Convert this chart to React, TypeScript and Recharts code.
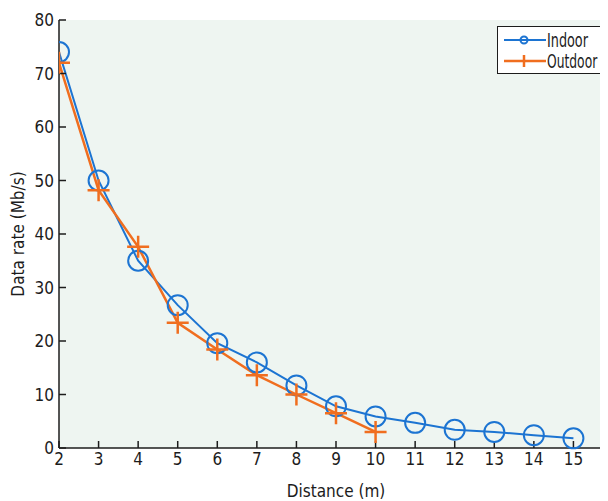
import { LineChart, Line, XAxis, YAxis, CartesianGrid, Legend } from "recharts";

const distances = [2, 3, 4, 5, 6, 7, 8, 9, 10, 11, 12, 13, 14, 15];
const indoorRates = [74, 50, 35, 26.7, 19.6, 16, 11.7, 7.8, 5.9, 4.7, 3.4, 3.0, 2.4, 1.8];
const outdoorDistances = [2, 3, 4, 5, 6, 7, 8, 9, 10];
const outdoorRates = [72, 48.2, 37.6, 23.4, 18.4, 13.6, 10, 6.5, 3];
const xTicks = [2, 3, 4, 5, 6, 7, 8, 9, 10, 11, 12, 13, 14, 15, 16];
const yTicks = [0, 10, 20, 30, 40, 50, 60, 70, 80];

const BLUE = "#1c74d2";
const ORANGE = "#f06e1f";
const INK = "#1c1c1c";
const FONT = "'DejaVu Sans Condensed', 'DejaVu Sans', sans-serif";

const indoorData = distances.map((d, i) => ({ distance: d, rate: indoorRates[i] }));
const outdoorData = outdoorDistances.map((d, i) => ({ distance: d, rate: outdoorRates[i] }));

const textStyle = { fill: INK, fontSize: 17, fontFamily: FONT, fontStretch: "condensed" };

const PlusDot = (props: any) => {
  const { cx, cy, index } = props;
  if (cx == null || cy == null) return <g key={`p-${index}`} />;
  return (
    <path
      key={`p-${index}`}
      d={`M${cx - 11},${cy}H${cx + 11}M${cx},${cy - 11}V${cy + 11}`}
      stroke={ORANGE}
      strokeWidth={2.5}
      fill="none"
    />
  );
};

// narrow legend text: squeeze horizontally to mimic the condensed original face
const LegendBox = () => (
  <div
    style={{
      width: 106,
      height: 46,
      border: `1.5px solid ${INK}`,
      borderRight: "none",
      background: "#fff",
    }}
  >
    <svg width={106} height={46} style={{ display: "block" }}>
      <line x1={6} y1={13} x2={48} y2={13} stroke={BLUE} strokeWidth={2} />
      <circle cx={26} cy={13} r={3.5} stroke={BLUE} strokeWidth={2} fill="none" />
      <g transform="translate(49,20) scale(0.75,1)">
        <text x={0} y={0} style={{ ...textStyle, fontSize: 19 }}>
          Indoor
        </text>
      </g>
      <line x1={6} y1={34} x2={48} y2={34} stroke={ORANGE} strokeWidth={2.5} />
      <path d="M26,28V40" stroke={ORANGE} strokeWidth={2.5} />
      <g transform="translate(49,41) scale(0.72,1)">
        <text x={0} y={0} style={{ ...textStyle, fontSize: 19 }}>
          Outdoor
        </text>
      </g>
    </svg>
  </div>
);

export default function App() {
  return (
    <div style={{ width: 600, height: 493, overflow: "hidden", background: "#fff" }}>
      <LineChart
        width={620}
        height={493}
        margin={{ top: 12, right: 15, left: 0, bottom: 0 }}
      >
        <CartesianGrid fill="#eef5f1" horizontal={false} vertical={false} />
        <XAxis
          xAxisId="bottom"
          dataKey="distance"
          type="number"
          domain={[2, 16]}
          ticks={xTicks}
          tickFormatter={(v: number) => (v === 16 ? "" : String(v))}
          allowDataOverflow
          height={53}
          tickSize={-7}
          tickMargin={12}
          tick={textStyle}
          stroke={INK}
          strokeWidth={1.5}
          label={{
            value: "Distance (m)",
            position: "insideBottom",
            offset: 4,
            style: textStyle,
          }}
        />
        <XAxis
          xAxisId="top"
          orientation="top"
          dataKey="distance"
          type="number"
          domain={[2, 16]}
          ticks={xTicks}
          height={0}
          tickSize={-8}
          tick={false}
          stroke={INK}
          strokeWidth={1.5}
        />
        <YAxis
          yAxisId="left"
          type="number"
          domain={[0, 80]}
          ticks={yTicks}
          width={51}
          tickSize={-7}
          tickMargin={12}
          tick={textStyle}
          stroke={INK}
          strokeWidth={1.5}
          label={{
            value: "Data rate (Mb/s)",
            angle: -90,
            position: "insideLeft",
            offset: 10,
            style: { ...textStyle, textAnchor: "middle" },
          }}
        />
        <YAxis
          yAxisId="right"
          orientation="right"
          type="number"
          domain={[0, 80]}
          ticks={yTicks}
          width={0}
          tickSize={-8}
          tick={false}
          stroke={INK}
          strokeWidth={1.5}
        />
        <Line
          xAxisId="bottom"
          yAxisId="left"
          data={indoorData}
          dataKey="rate"
          name="Indoor"
          type="linear"
          stroke={BLUE}
          strokeWidth={2}
          dot={{ r: 10, stroke: BLUE, strokeWidth: 2, fill: "none" }}
          isAnimationActive={false}
        />
        <Line
          xAxisId="bottom"
          yAxisId="left"
          data={outdoorData}
          dataKey="rate"
          name="Outdoor"
          type="linear"
          stroke={ORANGE}
          strokeWidth={2.5}
          dot={PlusDot}
          isAnimationActive={false}
        />
        <Legend
          layout="vertical"
          align="center"
          verticalAlign="middle"
          content={LegendBox}
          wrapperStyle={{ position: "absolute", top: 18, left: 489, width: 108, height: 49 }}
        />
      </LineChart>
    </div>
  );
}
